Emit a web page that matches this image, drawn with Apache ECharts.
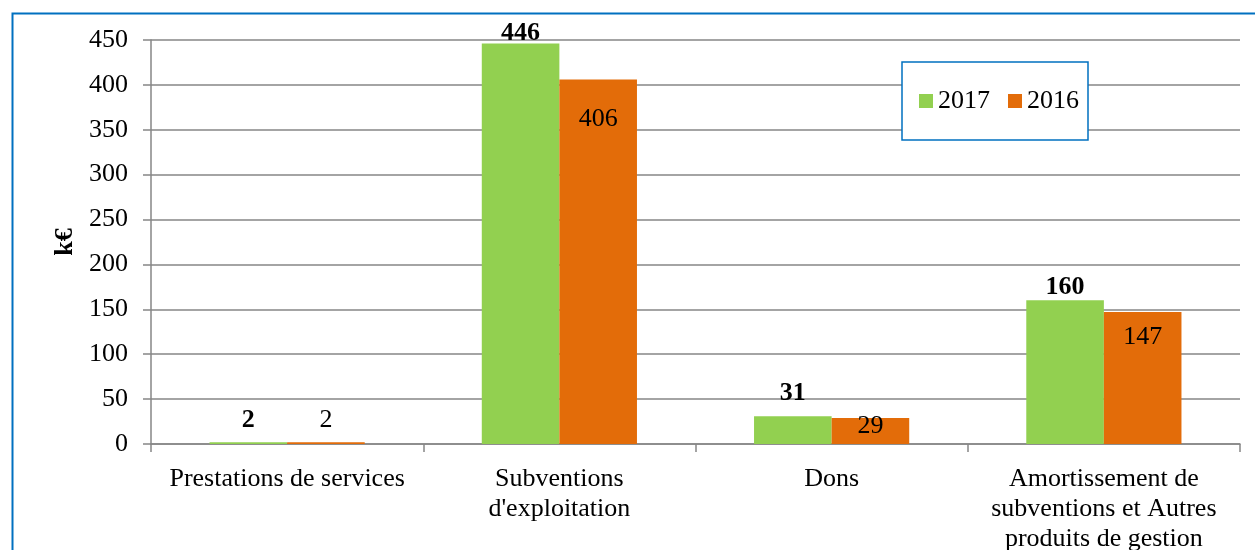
<!DOCTYPE html>
<html><head><meta charset="utf-8">
<script src="https://cdn.jsdelivr.net/npm/echarts@6/dist/echarts.min.js"></script>
<style>html,body{margin:0;padding:0;background:#fff}#c{width:1255px;height:550px}</style>
</head><body><div id="c"></div>
<script>
const categories = ["Prestations de services", "Subventions\nd'exploitation", "Dons", "Amortissement de\nsubventions et Autres\nproduits de gestion"];
const values2017 = [2, 446, 31, 160];
const values2016 = [2, 406, 29, 147];
const yTicks = [0, 50, 100, 150, 200, 250, 300, 350, 400, 450];

const FONT = "'Liberation Serif', 'Times New Roman', serif";
const lab2017 = [{position:'top', distance:9}, {position:'top', distance:-3}, {position:'top', distance:10}, {position:'top', distance:0}];
const lab2016 = [{position:'top', distance:9}, {position:'insideTop', distance:27}, {position:'insideTop', distance:-5}, {position:'insideTop', distance:12}];

const chart = echarts.init(document.getElementById('c'), null, {renderer:'canvas'});
chart.setOption({
  animation: false,
  backgroundColor: '#fff',
  graphic: [{
    type: 'rect', left: 10, top: 11, shape: {width: 1265, height: 570},
    style: {fill: 'none', stroke: '#0070C0', lineWidth: 2}, z: 100
  }],
  legend: {
    data: ['2017', '2016'],
    left: 902, top: 62,
    padding: [24, 9, 24, 17],
    borderColor: '#0070C0', borderWidth: 1.5, backgroundColor: '#fff',
    itemWidth: 14, itemHeight: 14, itemGap: 18,
    textStyle: {fontFamily: FONT, fontSize: 26, lineHeight: 30, color: '#000'},
    icon: 'rect'
  },
  grid: {left: 151, right: 15, top: 40, bottom: 106, containLabel: false, outerBoundsMode: 'none'},
  xAxis: {
    type: 'category', data: categories,
    axisLine: {lineStyle: {color: '#868686', width: 1.5}},
    axisTick: {show: true, length: 8, lineStyle: {color: '#868686', width: 1.5}},
    axisLabel: {fontFamily: FONT, fontSize: 26, color: '#000', margin: 20, lineHeight: 30, interval: 0}
  },
  yAxis: {
    type: 'value', min: yTicks[0], max: yTicks[yTicks.length-1], interval: 50,
    name: 'k€', nameLocation: 'middle', nameGap: 65, nameRotate: 90,
    nameTextStyle: {fontFamily: FONT, fontSize: 26, fontWeight: 'bold', color: '#000'},
    axisLine: {show: true, lineStyle: {color: '#868686', width: 1.5}},
    axisTick: {show: true, length: 8, lineStyle: {color: '#868686', width: 1.5}},
    axisLabel: {fontFamily: FONT, fontSize: 26, color: '#000', margin: 23},
    splitLine: {show: true, lineStyle: {color: '#868686', width: 1.5}}
  },
  series: [
    {
      name: '2017', type: 'bar', barGap: '0%', barCategoryGap: '43%',
      itemStyle: {color: '#92D050'},
      data: values2017.map((v, i) => ({value: v, label: lab2017[i]})),
      label: {show: true, fontFamily: FONT, fontSize: 26, fontWeight: 'bold', color: '#000'}
    },
    {
      name: '2016', type: 'bar', barGap: '0%', barCategoryGap: '43%',
      itemStyle: {color: '#E36C09'},
      data: values2016.map((v, i) => ({value: v, label: lab2016[i]})),
      label: {show: true, fontFamily: FONT, fontSize: 26, color: '#000'}
    }
  ]
});
</script></body></html>
